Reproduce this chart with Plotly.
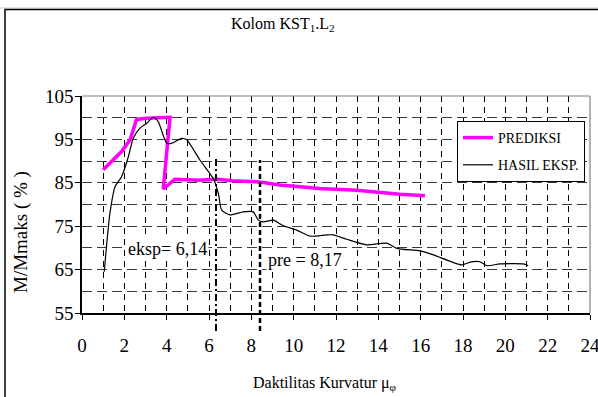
import plotly.graph_objects as go

# ---- data ----
pred_x = [1.0, 1.48, 1.87, 2.27, 2.58, 3.05, 4.16, 3.84, 4.39, 5.5, 6.4, 7.1, 8.4, 9.35, 11.24, 12.98, 14.08, 15.02, 16.2]
pred_y = [88.0, 90.3, 92.2, 94.9, 99.6, 99.85, 100.1, 83.6, 85.8, 85.6, 85.8, 85.5, 85.2, 84.5, 83.7, 83.3, 82.7, 82.35, 82.0]

eksp_x = [1.05, 1.17, 1.32, 1.56, 1.87, 2.19, 2.42, 2.74, 3.06, 3.37, 3.6, 4.0, 4.24, 4.71, 4.95, 5.57, 6.2,
          6.44, 6.6, 6.99, 7.62, 8.09, 8.33, 8.56, 9.04, 9.51, 10.14, 10.77, 11.56, 11.87, 12.5, 13.45,
          14.39, 14.87, 15.97, 16.6, 17.93, 18.4, 18.8, 19.12, 19.75, 20.85, 21.08]
eksp_y = [64.5, 71.0, 78.0, 84.1, 86.4, 91.0, 95.25, 97.6, 98.7, 100.1, 99.1, 94.1, 94.1, 95.25, 94.9, 90.25, 86.0,
          82.6, 78.7, 77.6, 78.3, 78.3, 76.4, 76.0, 76.4, 75.1, 74.1, 72.7, 73.0, 73.0, 72.0, 70.7,
          71.1, 69.9, 69.3, 68.4, 66.1, 66.8, 66.8, 65.9, 66.3, 66.3, 65.9]

marker_x = [6.33, 8.41]
marker_labels = ["eksp= 6,14", "pre = 8,17"]

x_ticks = list(range(0, 25, 2))
y_ticks = [55, 65, 75, 85, 95, 105]

SERIF = "Liberation Serif"
INK = "black"

# plot area in px
L, R, T, B = 82, 590, 96, 313
W, H = 598, 397
def px(xp):
    return (xp - L) / (R - L)
def py(yp):
    return (B - yp) / (B - T)

fig = go.Figure()
fig.add_trace(go.Scatter(x=pred_x, y=pred_y, mode="lines", name="PREDIKSI",
                         line=dict(color="#FF00FF", width=3.5), legendgroup="a"))
fig.add_trace(go.Scatter(x=eksp_x, y=eksp_y, mode="lines", name="HASIL EKSP.",
                         line=dict(color="black", width=1.2, shape="spline", smoothing=0.6), legendgroup="b"))

shapes = []
shapes.append(dict(type="line", xref="paper", yref="paper", x0=px(-5), x1=px(610), y0=py(8), y1=py(8),
                   line=dict(color="#c8c8c8", width=1)))
shapes.append(dict(type="rect", xref="paper", yref="paper", x0=px(5), x1=px(610), y0=py(9.5), y1=py(410),
                   line=dict(color="black", width=1.5)))
shapes.append(dict(type="line", xref="paper", yref="paper", x0=0, x1=1, y0=1, y1=1,
                   line=dict(color="#808080", width=1.2)))
shapes.append(dict(type="line", xref="paper", yref="paper", x0=1, x1=1, y0=0, y1=1,
                   line=dict(color="#808080", width=1.2)))
shapes.append(dict(type="line", xref="x", yref="paper", x0=marker_x[0], x1=marker_x[0],
                   y0=py(331), y1=py(157), line=dict(color="black", width=2, dash="7px,3px,2px,3px")))
shapes.append(dict(type="line", xref="x", yref="paper", x0=marker_x[1], x1=marker_x[1],
                   y0=py(331), y1=py(160), line=dict(color="black", width=2.5, dash="5px,3px")))

annotations = [
    dict(xref="paper", yref="paper", x=px(283), y=py(24), text="Kolom KST<sub>1</sub>.L<sub>2</sub>",
         showarrow=False, font=dict(family=SERIF, size=16, color=INK), xanchor="center", yanchor="middle"),
    dict(xref="paper", yref="paper", x=px(325), y=py(383), text="Daktilitas Kurvatur μ<sub>φ</sub>",
         showarrow=False, font=dict(family=SERIF, size=16, color=INK), xanchor="center", yanchor="middle"),
    dict(xref="paper", yref="paper", x=px(21), y=py(232), text="M/Mmaks ( % )", textangle=-90,
         showarrow=False, font=dict(family=SERIF, size=19, color=INK), xanchor="center", yanchor="middle"),
    dict(xref="paper", yref="paper", x=px(167), y=py(249), text=marker_labels[0],
         showarrow=False, font=dict(family=SERIF, size=18, color=INK), bgcolor="white",
         xanchor="center", yanchor="middle"),
    dict(xref="paper", yref="paper", x=px(305), y=py(260), text=marker_labels[1],
         showarrow=False, font=dict(family=SERIF, size=18, color=INK), bgcolor="white",
         xanchor="center", yanchor="middle"),
]

fig.update_layout(
    width=W, height=H,
    margin=dict(l=L, r=W - R, t=T, b=H - B, pad=0, autoexpand=False),
    paper_bgcolor="white", plot_bgcolor="white",
    font=dict(color=INK),
    shapes=shapes, annotations=annotations,
    showlegend=True,
    legend=dict(x=px(457), y=py(121), xanchor="left", yanchor="top",
                bordercolor="black", borderwidth=1, bgcolor="white",
                font=dict(family=SERIF, size=14, color=INK),
                tracegroupgap=6, itemwidth=30),
)
fig.update_xaxes(range=[0, 24], tickvals=x_ticks, ticktext=[str(v) for v in x_ticks],
                 showline=True, linecolor="black", linewidth=1.5,
                 ticks="outside", ticklen=5, tickcolor="black", tickwidth=1.2,
                 tickfont=dict(family=SERIF, size=19, color=INK), ticklabelstandoff=9,
                 ticklabeloverflow="allow",
                 showgrid=True, gridcolor="black", gridwidth=1, griddash="6px,5px",
                 minor=dict(dtick=1, tick0=0, showgrid=True, gridcolor="black", gridwidth=1, griddash="6px,5px"),
                 zeroline=False, fixedrange=True)
fig.update_yaxes(range=[55, 105], tickvals=y_ticks, ticktext=[str(v) for v in y_ticks],
                 showline=True, linecolor="black", linewidth=1.5,
                 ticks="outside", ticklen=5, tickcolor="black", tickwidth=1.2,
                 tickfont=dict(family=SERIF, size=19, color=INK), ticklabelstandoff=-2,
                 showgrid=True, gridcolor="#3a3a3a", gridwidth=1, griddash="10px,5px",
                 minor=dict(dtick=5, tick0=55, showgrid=True, gridcolor="#3a3a3a", gridwidth=1, griddash="10px,5px"),
                 zeroline=False, fixedrange=True)

fig.write_html("out.html")
